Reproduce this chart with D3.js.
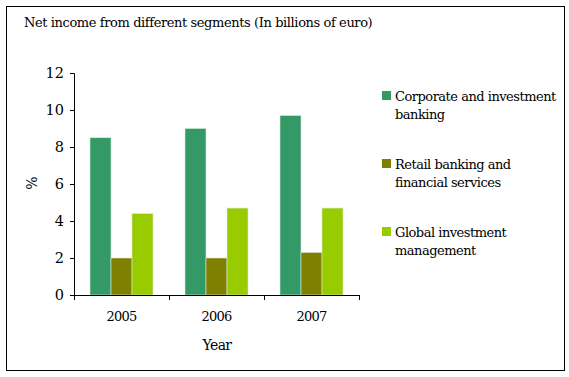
<!DOCTYPE html>
<html><head><meta charset="utf-8">
<script src="https://cdn.jsdelivr.net/npm/d3@7"></script>
<style>body{margin:0;background:#fff}svg{display:block}text{font-family:"DejaVu Serif",serif;fill:#000}</style>
</head><body>
<script>
const years = ["2005","2006","2007"];
const seriesNames = ["Corporate and investment banking","Retail banking and financial services","Global investment management"];
const corporate = [8.5, 9.0, 9.7];
const retail = [2.0, 2.0, 2.3];
const globalInv = [4.4, 4.7, 4.7];
const yTicks = [0,2,4,6,8,10,12];
const colors = ["#339966","#808000","#99cc00"];
const legendLines = [["Corporate and investment","banking"],["Retail banking and","financial services"],["Global investment","management"]];

const W=569,H=377;
const svg=d3.select("body").append("svg").attr("width",W).attr("height",H);
svg.append("rect").attr("x",6.5).attr("y",6.5).attr("width",558).attr("height",364).attr("fill","none").attr("stroke","#000");
svg.append("text").attr("x",24).attr("y",27).attr("font-size",13).attr("letter-spacing",-0.4).text("Net income from different segments (In billions of euro)");

const x0=d3.scaleBand().domain(years).range([74,359]);
const x1=d3.scaleBand().domain([0,1,2]).range([16,79]);
const y=d3.scaleLinear().domain([0,12]).range([295,73]);
const series=[corporate,retail,globalInv];

const g=svg.append("g");
years.forEach((yr,i)=>{
  series.forEach((s,k)=>{
    g.append("rect").attr("x",x0(yr)+x1(k)).attr("y",y(s[i])).attr("width",x1.bandwidth()).attr("height",y(0)-y(s[i]))
     .attr("fill",colors[k]).attr("stroke","#d8e8dc").attr("stroke-width",0.6);
  });
});

const ya=svg.append("g").attr("transform","translate(74,0)").call(d3.axisLeft(y).tickValues(yTicks).tickSize(4).tickPadding(6));
ya.selectAll("text").attr("font-size",14.5).attr("font-family","DejaVu Serif");
const xa=svg.append("g").attr("transform","translate(0,295)").call(d3.axisBottom(x0).tickSize(0).tickPadding(17));
xa.selectAll("text").attr("font-size",13).attr("letter-spacing",-0.8).attr("font-family","DejaVu Serif");
svg.append("g").attr("transform","translate(0,295)").call(d3.axisBottom(d3.scaleLinear().domain([0,3]).range([74,359])).tickValues([0,1,2,3]).tickSize(5).tickFormat(""))
  .select(".domain").remove();
svg.selectAll(".domain,.tick line").attr("stroke","#000");

svg.append("text").attr("x",217).attr("y",350).attr("text-anchor","middle").attr("font-size",14).attr("letter-spacing",-0.6).text("Year");
svg.append("text").attr("transform","translate(37,183) rotate(-90)").attr("text-anchor","middle").attr("font-size",14).text("%");

const lg=svg.append("g");
const ly=[91,159,227];
seriesNames.forEach((n,k)=>{
  lg.append("rect").attr("x",382).attr("y",ly[k]).attr("width",9).attr("height",9).attr("fill",colors[k]);
  legendLines[k].forEach((t,j)=>{
    lg.append("text").attr("x",395).attr("y",ly[k]+10+j*18).attr("font-size",13).attr("letter-spacing",-0.5).text(t);
  });
});
</script>
</body></html>
